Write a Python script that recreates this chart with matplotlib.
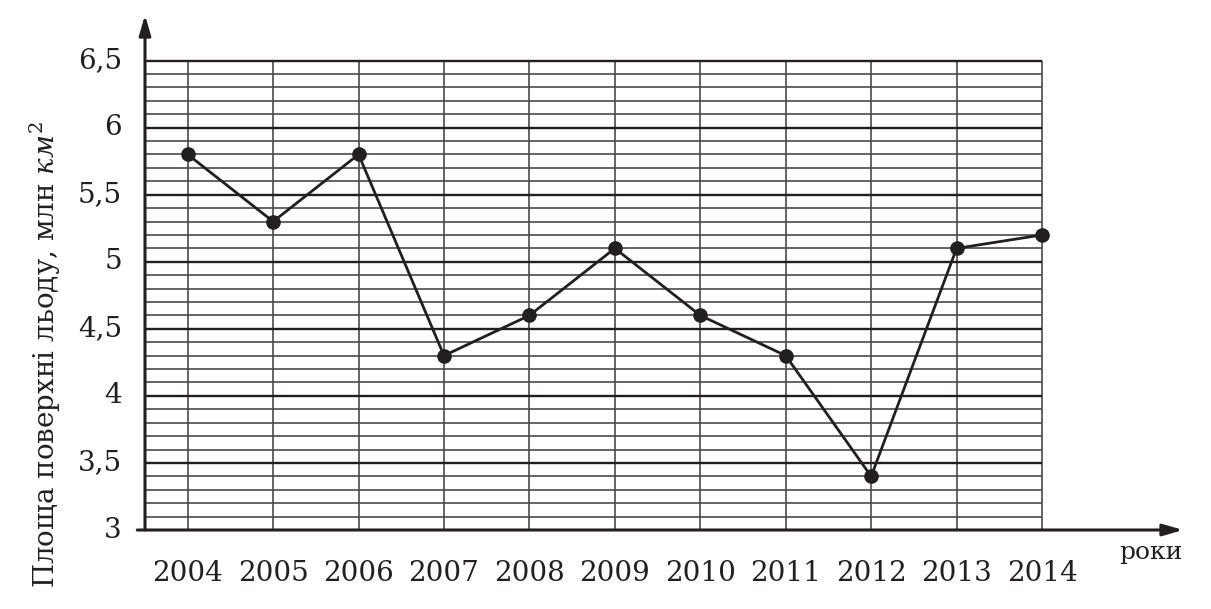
import matplotlib
matplotlib.use("Agg")
import matplotlib.pyplot as plt
import numpy as np

years = [2004, 2005, 2006, 2007, 2008, 2009, 2010, 2011, 2012, 2013, 2014]
area = [5.8, 5.3, 5.8, 4.3, 4.6, 5.1, 4.6, 4.3, 3.4, 5.1, 5.2]
y_ticks = [3, 3.5, 4, 4.5, 5, 5.5, 6, 6.5]
y_tick_labels = ["3", "3,5", "4", "4,5", "5", "5,5", "6", "6,5"]

ink = "#231f20"
plt.rcParams["font.family"] = ["DejaVu Serif"]
plt.rcParams["mathtext.fontset"] = "dejavuserif"

fig = plt.figure(figsize=(12.11, 6.09), dpi=100)
W, H = 1211, 609
ax = fig.add_axes([145 / W, (609 - 530) / H, (1183 - 145) / W, (530 - 15) / H])
ax.set_xlim(2003.5, 2015.65)
ax.set_ylim(3, 6.84)
ax.axis("off")

x0, x1 = 2003.5, years[-1]
# minor horizontal grid
minor = np.round(np.arange(3.1, 6.5, 0.1), 2)
minor = [v for v in minor if round(v * 2) != v * 2]
ax.hlines(minor, x0, x1, color="#3a3a3a", lw=1.1, zorder=1)
ax.hlines(y_ticks[1:], x0 - 0.09, x1, color=ink, lw=1.7, zorder=2)
# vertical grid with tick stubs below the axis
ax.vlines(years, 2.85, 6.5, color="#4a4a4a", lw=1.2, zorder=1)

# axes arrows
ax.annotate("", xy=(2015.65, 3), xytext=(x0 - 0.09, 3),
            arrowprops=dict(arrowstyle="-|>,head_length=1.2,head_width=0.35", color=ink, lw=2.2,
                            shrinkA=0, shrinkB=0), zorder=3, annotation_clip=False)
ax.annotate("", xy=(x0, 6.84), xytext=(x0, 3),
            arrowprops=dict(arrowstyle="-|>,head_length=1.2,head_width=0.35", color=ink, lw=2.2,
                            shrinkA=0, shrinkB=0), zorder=3, annotation_clip=False)

ax.plot(years, area, color=ink, lw=2.0, marker="o", ms=9.5, zorder=4, clip_on=False)

for v, lab in zip(y_ticks, y_tick_labels):
    ax.text(x0 - 0.27, v, lab, ha="right", va="center", fontsize=20, color=ink)
for yr in years:
    ax.text(yr, 2.78, str(yr), ha="center", va="top", fontsize=20, color=ink)

ax.text(2015.65, 2.83, "роки", ha="right", va="center", fontsize=18, color=ink)
fig.text(45 / W, 1 - 355 / H, r"Площа поверхні льоду, млн $\mathit{км}^2$", rotation=90,
         ha="center", va="center", fontsize=20, color=ink)

fig.savefig("out.png", dpi=100, facecolor="white")
